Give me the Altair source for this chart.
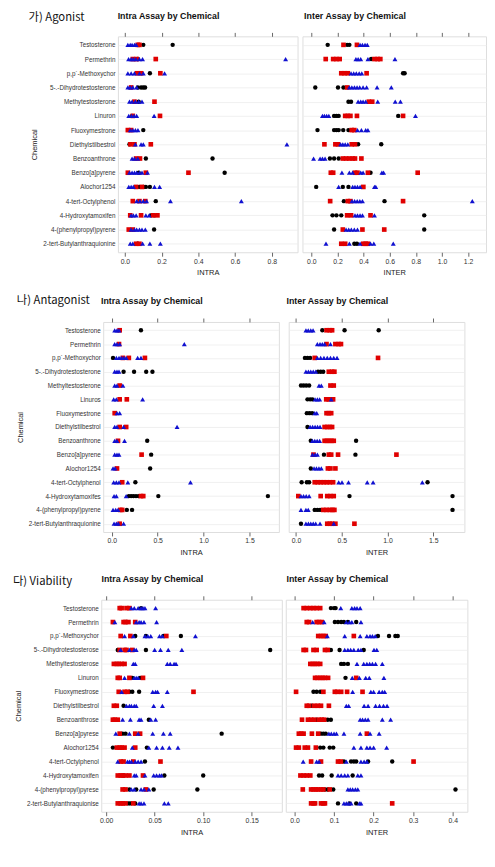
import altair as alt
import pandas as pd

# ---------------- categories ----------------
AGO_CHEMS = ["Testosterone", "Permethrin", "p,p´-Methoxychor", "5-.-Dihydrotestosterone",
             "Methytestosterone", "Linuron", "Fluoxymestrone", "Diethylstilbestrol",
             "Benzoanthrone", "Benzo[a]pyrene", "Alochor1254", "4-tert-Octylphenol",
             "4-Hydroxytamoxifen", "4-(phenylpropyl)pyrene", "2-tert-Butylanthraquionine"]
ANT_CHEMS = ["Testosterone", "Permethrin", "p,p´-Methoxychor", "5-.-Dihydrotestosterone",
             "Methyltestosterone", "Linuros", "Fluoxymestrone", "Diethylstilbestrol",
             "Benzoanthrone", "Benzo[a]pyrene", "Alochor1254", "4-tert-Octylphenol",
             "4-Hydroxytamoxifes", "4-(phenylpropyl)pyrene", "2-tert-Butylanthraquionine"]
VIA_CHEMS = ["Testosterone", "Permethrin", "p,p´-Methoxychor", "5-.-Dihydrotestosterose",
             "Methyltestosterose", "Linuron", "Fluoxymestrose", "Diethylstilbestrol",
             "Benzoanthrose", "Benzo[a]pyrese", "Alochor1254", "4-tert-Octylphenol",
             "4-Hydroxytamoxifen", "4-(phenylpropyl)pyrese", "2-tert-Butylanthraquionise"]

SECTION_LABELS = ["가) Agonist", "나) Antagonist", "다) Viability"]
PANEL_TITLES = ["Intra Assay by Chemical", "Inter Assay by Chemical"]
X_TITLES = ["INTRA", "INTER"]

# ---------------- Agonist ----------------
AGO_INTRA_K = [[0.10, 0.26], [0.07], [0.136], [0.07, 0.088, 0.10, 0.11], [0.075], [0.039], [0.10],
               [0.025], [0.114, 0.477], [0.075, 0.543], [0.079, 0.10, 0.114, 0.136], [0.168],
               [0.141, 0.159], [0.159], [0.07]]
AGO_INTRA_R = [[0.07, 0.079], [0.043, 0.064, 0.168], [0.066, 0.088, 0.193], [0.034], [0.052, 0.161],
               [0.043, 0.191], [0.016, 0.034], [0.03, 0.052, 0.141], [0.061, 0.082],
               [0.016, 0.114, 0.346], [0.061, 0.093], [0.043, 0.079, 0.111],
               [0.029, 0.088, 0.154, 0.177], [0.021, 0.043], [0.061, 0.079]]
AGO_INTRA_B = [[0.016, 0.029, 0.039, 0.052, 0.061], [0.02, 0.034, 0.046, 0.06, 0.079, 0.096, 0.875],
               [0.016, 0.034, 0.052, 0.079, 0.10, 0.216], [0.016, 0.029, 0.043, 0.064],
               [0.025, 0.039, 0.057, 0.075, 0.093], [0.021, 0.036, 0.05, 0.064, 0.159],
               [0.029, 0.043, 0.057, 0.071], [0.057, 0.088, 0.10, 0.882], [0.039, 0.052, 0.07],
               [0.025, 0.039, 0.052, 0.064, 0.079, 0.093, 0.123], [0.021, 0.034, 0.046, 0.161, 0.189],
               [0.064, 0.082, 0.10, 0.118, 0.248, 0.634], [0.034, 0.046, 0.061, 0.114, 0.132],
               [0.034, 0.052, 0.064, 0.079, 0.093, 0.111], [0.029, 0.043, 0.096, 0.136, 0.193]]

AGO_INTER_K = [[0.125, 0.274, 0.291], [0.458], [0.702, 0.714], [0.03, 0.204, 0.246], [0.284, 0.304],
               [0.174, 0.192, 0.209, 0.665], [0.047, 0.174, 0.192, 0.209, 0.244, 0.284], [0.358, 0.535],
               [0.142, 0.174, 0.209], [0.453], [0.037, 0.241, 0.284], [0.249, 0.56],
               [0.162, 0.192, 0.229, 0.864], [0.174, 0.864], [0.329, 0.349]]
AGO_INTER_R = [[0.246, 0.349], [0.11, 0.167, 0.192, 0.217, 0.483, 0.508, 0.528], [0.229, 0.254, 0.279, 0.423],
               [0.274], [0.44, 0.466], [0.259, 0.279, 0.299, 0.349, 0.702], [0.309, 0.329],
               [0.10, 0.184, 0.204, 0.309, 0.334], [0.241, 0.266, 0.291, 0.316, 0.334, 0.383],
               [0.149, 0.167, 0.334, 0.353, 0.433, 0.814], [0.398], [0.144, 0.279, 0.299, 0.702],
               [0.274, 0.304, 0.453], [0.241, 0.391, 0.558], [0.229, 0.259, 0.398, 0.416, 0.433]]
AGO_INTER_B = [[0.373, 0.391, 0.411, 0.428], [0.341, 0.358, 0.378, 0.433, 0.64],
               [0.304, 0.324, 0.344, 0.366, 0.386],
               [0.291, 0.31, 0.33, 0.35, 0.37, 0.396, 0.423, 0.503, 0.612],
               [0.358, 0.378, 0.396, 0.416, 0.508, 0.642, 0.682], [0.085, 0.10, 0.117, 0.134, 0.797],
               [0.353, 0.383, 0.416, 0.433], [0.224, 0.241, 0.259, 0.279], [0.017, 0.067, 0.085, 0.105],
               [0.234, 0.291, 0.316, 0.378, 0.396, 0.54, 0.553],
               [0.209, 0.316, 0.334, 0.353, 0.373, 0.483, 0.493],
               [0.311, 0.331, 0.351, 0.371, 0.391, 1.232], [0.334, 0.353, 0.373, 0.391, 0.483],
               [0.266, 0.286, 0.306, 0.329, 0.353], [0.112, 0.291, 0.373, 0.453, 0.478, 0.627]]

# ---------------- Antagonist ----------------
ANT_INTRA_K = [[0.318], [], [0.014], [0.129, 0.243, 0.375, 0.443], [], [], [], [], [0.386], [0.429],
               [0.418], [0.257], [0.186, 0.211, 0.236, 0.264, 0.293, 0.507, 1.70], [0.164, 0.221], []]
ANT_INTRA_R = [[0.086], [0.079], [0.121, 0.186, 0.361], [], [0.086], [0.086, 0.164], [0.032],
               [0.086, 0.157], [0.068], [0.325], [0.057], [0.114], [0.318, 0.343], [0.093, 0.114], [0.086]]
ANT_INTRA_B = [[0.032, 0.057, 0.079], [0.032, 0.057, 0.086, 0.79],
               [0.05, 0.079, 0.104, 0.129, 0.157, 0.282, 0.318], [0.032, 0.057, 0.079],
               [0.032, 0.057, 0.121], [0.021, 0.05, 0.336], [0.057, 0.086], [0.032, 0.057, 0.129, 0.711],
               [0.032, 0.057, 0.139], [0.032, 0.057, 0.079], [0.014, 0.036],
               [0.021, 0.05, 0.079, 0.175, 0.857], [0.025, 0.05, 0.157], [0.014, 0.043, 0.068],
               [0.025, 0.05, 0.071, 0.129]]

ANT_INTER_K = [[0.287, 0.53, 0.903], [], [0.097, 0.125, 0.154], [0.24, 0.269, 0.297],
               [0.054, 0.082, 0.111, 0.143], [0.125, 0.154, 0.179], [0.118, 0.147, 0.176], [0.125],
               [0.161, 0.656], [0.305, 0.649], [0.161], [0.061, 0.118, 0.143, 1.437], [0.584, 1.71],
               [0.204, 0.233, 0.262, 1.71], [0.054]]
ANT_INTER_R = [[0.333, 0.369, 0.394], [0.333, 0.43, 0.466, 0.491], [0.204, 0.896], [0.358, 0.394, 0.419],
               [0.376, 0.412], [0.33, 0.358, 0.405], [0.333, 0.358, 0.384], [0.312, 0.341, 0.369, 0.394],
               [0.312, 0.337, 0.362, 0.387, 0.412], [0.19, 0.358, 0.384, 0.459, 1.097],
               [0.348, 0.376, 0.43], [0.204, 0.237, 0.27, 0.303, 0.336, 0.369, 0.405],
               [0.025, 0.269, 0.341, 0.376, 0.412], [0.297, 0.333, 0.369, 0.398, 0.419],
               [0.341, 0.369, 0.394, 0.43, 0.638]]
ANT_INTER_B = [[0.108, 0.133, 0.161, 0.186], [0.233, 0.262, 0.287, 0.312, 0.376],
               [0.233, 0.269, 0.305, 0.341, 0.376, 0.412, 0.448], [0.108, 0.135, 0.161, 0.188, 0.215],
               [0.251, 0.276], [0.208, 0.233, 0.258, 0.384], [0.204, 0.226],
               [0.154, 0.181, 0.208, 0.235, 0.262], [0.179, 0.205, 0.231, 0.258], [0.179, 0.208, 0.233],
               [0.197, 0.223, 0.25, 0.276], [0.466, 0.502, 0.573, 0.778, 0.842, 1.38],
               [0.054, 0.082, 0.111, 0.143], [0.054, 0.108, 0.133],
               [0.108, 0.135, 0.161, 0.188, 0.215, 0.262, 0.412]]

# ---------------- Viability ----------------
VIA_INTRA_K = [[0.036], [0.021], [0.03, 0.041, 0.059, 0.077], [0.012, 0.041, 0.169], [], [0.027, 0.035],
               [0.024, 0.027, 0.034], [0.018], [0.044], [0.017, 0.02, 0.119], [0.007, 0.042], [0.04],
               [0.018, 0.06, 0.10], [0.024, 0.031, 0.049, 0.094], [0.023, 0.025, 0.03]]
VIA_INTRA_R = [[0.014, 0.016, 0.021, 0.024], [0.007, 0.018, 0.02, 0.023, 0.03], [0.015, 0.025, 0.062],
               [0.014, 0.019, 0.021, 0.027], [0.008, 0.011, 0.013, 0.016, 0.019], [0.012, 0.014, 0.024, 0.038],
               [0.013, 0.019, 0.022, 0.09], [0.008, 0.011], [0.007, 0.009, 0.012], [0.014, 0.03, 0.035],
               [0.011, 0.014, 0.016, 0.019, 0.03], [0.015, 0.018, 0.028, 0.056],
               [0.012, 0.015, 0.017, 0.02, 0.024, 0.038], [0.017, 0.02, 0.041], [0.012, 0.015, 0.017, 0.02, 0.028]]
VIA_INTRA_B = [[0.026, 0.029, 0.033, 0.036, 0.038, 0.04, 0.051], [0.009, 0.031, 0.034, 0.036, 0.039, 0.052],
               [0.019, 0.028, 0.04, 0.043, 0.046, 0.055, 0.058, 0.092],
               [0.015, 0.024, 0.029, 0.031, 0.05, 0.056, 0.064, 0.078], [0.028, 0.03, 0.063, 0.066, 0.07, 0.072],
               [0.019, 0.029, 0.031, 0.033], [0.016, 0.048, 0.051, 0.053, 0.063],
               [0.021, 0.024, 0.026, 0.029, 0.031, 0.049, 0.058], [0.017, 0.025, 0.034, 0.036, 0.046, 0.051],
               [0.01, 0.024, 0.033, 0.048, 0.059, 0.066], [0.027, 0.044, 0.052, 0.058, 0.065, 0.074],
               [0.012, 0.022, 0.024, 0.026, 0.03, 0.033, 0.036], [0.029, 0.031, 0.04, 0.049, 0.052, 0.055, 0.057],
               [0.026, 0.029, 0.036, 0.039, 0.044], [0.034, 0.036, 0.039, 0.06, 0.064]]

VIA_INTER_K = [[0.092, 0.10, 0.104], [0.102, 0.11, 0.118, 0.125, 0.135, 0.156], [0.211, 0.239, 0.255, 0.261],
               [0.092, 0.114, 0.175], [0.118, 0.125, 0.135], [0.129], [0.048, 0.056, 0.065], [0.044],
               [0.056, 0.084, 0.092], [0.067, 0.073, 0.079], [0.065, 0.073, 0.089, 0.098],
               [0.125, 0.143, 0.15, 0.156, 0.186, 0.247], [0.062, 0.07, 0.094, 0.147],
               [0.077, 0.084, 0.098, 0.407], [0.11, 0.139, 0.156]]
VIA_INTER_R = [[0.023, 0.031, 0.04, 0.048, 0.056, 0.065], [0.031, 0.037, 0.056, 0.062, 0.069],
               [0.06, 0.067, 0.073, 0.079, 0.15], [0.023, 0.029, 0.048, 0.056, 0.077, 0.084],
               [0.04, 0.046, 0.052, 0.058, 0.065], [0.052, 0.058, 0.065, 0.071, 0.077, 0.085, 0.156],
               [0.004, 0.073, 0.102, 0.108, 0.118, 0.133, 0.172], [0.031, 0.037, 0.05, 0.059, 0.067, 0.087],
               [0.019, 0.034, 0.042, 0.05, 0.062, 0.069, 0.075], [0.011, 0.017, 0.023, 0.044, 0.06, 0.183],
               [0.004, 0.011, 0.026, 0.034, 0.054], [0.042, 0.067, 0.11, 0.117, 0.301],
               [0.015, 0.023, 0.031, 0.04], [0.021, 0.042, 0.048, 0.054, 0.06, 0.067, 0.073, 0.089],
               [0.042, 0.048, 0.052, 0.067, 0.073, 0.077, 0.247]]
VIA_INTER_B = [[0.117, 0.145, 0.152, 0.158, 0.166], [0.046, 0.075, 0.131, 0.139, 0.145, 0.168],
               [0.083, 0.127, 0.166, 0.183, 0.191, 0.197, 0.204],
               [0.127, 0.135, 0.142, 0.15, 0.161, 0.168, 0.201, 0.208],
               [0.158, 0.175, 0.183, 0.19, 0.197, 0.205, 0.222], [0.146, 0.164, 0.18, 0.189, 0.226],
               [0.147, 0.193, 0.20, 0.214, 0.222, 0.228], [0.131, 0.137, 0.176, 0.186, 0.205, 0.215, 0.225, 0.234],
               [0.166, 0.172, 0.179, 0.186, 0.222, 0.243], [0.087, 0.093, 0.10, 0.106, 0.125, 0.166, 0.191, 0.214],
               [0.15, 0.168, 0.183, 0.191, 0.20, 0.233], [0.022, 0.056, 0.062, 0.131, 0.168, 0.176, 0.183],
               [0.11, 0.118, 0.127, 0.135, 0.16, 0.168], [0.135, 0.141, 0.147, 0.154, 0.16],
               [0.125, 0.131, 0.137, 0.143, 0.164, 0.168]]

# ---------------- axis ticks ----------------
AGO_INTRA_TICKS = [0.0, 0.2, 0.4, 0.6, 0.8]
AGO_INTER_TICKS = [0.0, 0.2, 0.4, 0.6, 0.8, 1.0, 1.2]
ANT_TICKS = [0.0, 0.5, 1.0, 1.5]
VIA_INTRA_TICKS = [0.0, 0.05, 0.10, 0.15]
VIA_INTER_TICKS = [0.0, 0.1, 0.2, 0.3, 0.4]

# ---------------- styling ----------------
GROUPS = ["k", "r", "b"]
COLORS = ["#000000", "#e00000", "#1010d0"]
SHAPES = ["circle", "square", "triangle-up"]
SIZES = [20, 25, 44]
FONT = "Liberation Sans"
KFONT = "Noto Sans CJK KR"


def make_df(chems, k, r, b):
    rows = []
    for g, series in zip(GROUPS, (k, r, b)):
        for chem, vals in zip(chems, series):
            for v in vals:
                rows.append({"chem": chem, "value": v, "grp": g})
    return pd.DataFrame(rows)


def text_layer(txt, x, y, font, size, weight="normal", align="left"):
    return alt.Chart(pd.DataFrame({"t": [txt]})).mark_text(
        align=align, baseline="middle", font=font, fontSize=size, fontWeight=weight, color="#111111"
    ).encode(text="t:N", x=alt.value(x), y=alt.value(y))


def spacer(w):
    return alt.Chart(pd.DataFrame({"a": [0]})).mark_point(opacity=0, size=1).encode(
        x=alt.value(0), y=alt.value(0)
    ).properties(width=w, height=1, view=alt.ViewBackground(strokeWidth=0, strokeOpacity=0))


def panel(df, chems, domain, ticks, fmt, xtitle, ptitle, width, height, left,
          label=None, label_pos=None):
    xscale = alt.Scale(domain=domain, nice=False, zero=False)
    yscale = alt.Scale(domain=chems, padding=0.6)
    if left:
        yaxis = alt.Axis(title="Chemical", labelFontSize=6.4, labelColor="#333333", labelPadding=3,
                         titleFontSize=7.6, titleFontWeight="normal", titleColor="#222222", titlePadding=4,
                         ticks=False, domain=False, grid=True, gridColor="#ececec", gridWidth=0.8,
                         minExtent=0, labelLimit=200)
    else:
        yaxis = alt.Axis(title=None, labels=False, ticks=False, domain=False, grid=True,
                         gridColor="#ececec", gridWidth=0.8, minExtent=0, maxExtent=0)
    pts = alt.Chart(df).mark_point(filled=True, opacity=1, strokeWidth=0).encode(
        x=alt.X("value:Q", scale=xscale,
                axis=alt.Axis(values=ticks, format=fmt, title=xtitle, grid=False, domain=False,
                              tickColor="#666666", tickSize=4, labelFontSize=7, labelColor="#333333",
                              labelPadding=1, titleFontSize=7.6, titleFontWeight="normal",
                              titleColor="#222222", titlePadding=5, labelFlush=False)),
        y=alt.Y("chem:N", scale=yscale, axis=yaxis, sort=chems),
        color=alt.Color("grp:N", scale=alt.Scale(domain=GROUPS, range=COLORS), legend=None),
        shape=alt.Shape("grp:N", scale=alt.Scale(domain=GROUPS, range=SHAPES), legend=None),
        size=alt.Size("grp:N", scale=alt.Scale(domain=GROUPS, range=SIZES), legend=None),
    )
    top = alt.Chart(df).mark_point(opacity=0).encode(
        x=alt.X("value:Q", scale=xscale,
                axis=alt.Axis(orient="top", values=ticks, labels=False, title=None, grid=False,
                              domain=False, tickColor="#666666", tickSize=4)),
    )
    layers = [pts, top, text_layer(ptitle, width / 2 - 40, -21, FONT, 9, "bold", "center")]
    if label is not None:
        layers.append(text_layer(label, label_pos[0], label_pos[1], KFONT, 11.5))
    return alt.layer(*layers).resolve_axis(x="independent").properties(width=width, height=height)


def section(chems, intra, inter, intra_dom, inter_dom, intra_ticks, inter_ticks, intra_fmt, inter_fmt,
            w1, w2, h, gap, label, label_pos, lead):
    a = panel(make_df(chems, *intra), chems, intra_dom, intra_ticks, intra_fmt, X_TITLES[0],
              PANEL_TITLES[0], w1, h, True, label, label_pos)
    b = panel(make_df(chems, *inter), chems, inter_dom, inter_ticks, inter_fmt, X_TITLES[1],
              PANEL_TITLES[1], w2, h, False)
    return alt.hconcat(spacer(lead), a, b, spacing=gap)


ago = section(AGO_CHEMS, (AGO_INTRA_K, AGO_INTRA_R, AGO_INTRA_B), (AGO_INTER_K, AGO_INTER_R, AGO_INTER_B),
              [-0.038, 0.94], [-0.068, 1.337], AGO_INTRA_TICKS, AGO_INTER_TICKS, ".1f", ".1f",
              183, 187, 220, 3, SECTION_LABELS[0], (-91, -19), 16)
ant = section(ANT_CHEMS, (ANT_INTRA_K, ANT_INTRA_R, ANT_INTRA_B), (ANT_INTER_K, ANT_INTER_R, ANT_INTER_B),
              [-0.093, 1.82], [-0.08, 1.84], ANT_TICKS, ANT_TICKS, ".1f", ".1f",
              179, 179, 214, 5, SECTION_LABELS[1], (-88, -21), 1)
via = section(VIA_CHEMS, (VIA_INTRA_K, VIA_INTRA_R, VIA_INTRA_B), (VIA_INTER_K, VIA_INTER_R, VIA_INTER_B),
              [-0.005, 0.181], [-0.022, 0.437], VIA_INTRA_TICKS, VIA_INTER_TICKS, ".2f", ".1f",
              184, 185, 216, 2, SECTION_LABELS[2], (-90, -18), 1)

chart = alt.concat(ago, ant, via, columns=1, spacing=17).properties(
    padding={"left": 0, "top": -5, "right": 0, "bottom": 0}
).configure_view(stroke="#8a8a8a", strokeWidth=1.3).configure(font=FONT)

chart.save("out.html", embed_options={"renderer": "svg", "actions": False})
